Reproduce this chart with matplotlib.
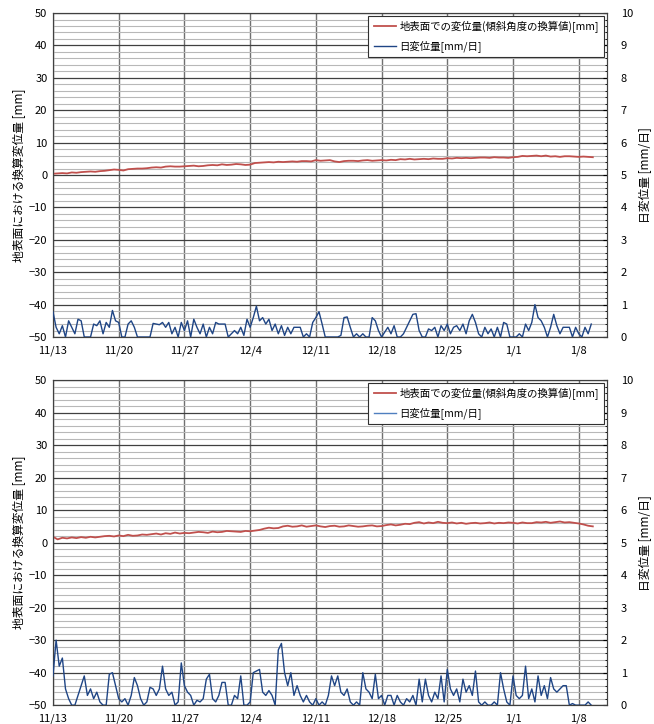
import numpy as np
import matplotlib
matplotlib.use("Agg")
import matplotlib.pyplot as plt
from matplotlib.ticker import MultipleLocator

plt.rcParams['font.family'] = ['Noto Sans CJK JP', 'DejaVu Sans']

# tick labels on the date axis (one every 7 days, starting 11/13)
date_labels = ["11/13", "11/20", "11/27", "12/4", "12/11", "12/18", "12/25", "1/1", "1/8"]

# red: converted surface displacement [mm], two readings per day
red_top = [0.4, 0.5, 0.6, 0.5, 0.8, 0.7, 0.9, 1.0, 1.1, 1.0, 1.2, 1.3, 1.5, 1.7, 1.6, 1.4,
           1.8, 1.9, 2.0, 2.0, 2.1, 2.3, 2.4, 2.3, 2.6, 2.7, 2.6, 2.6, 2.7, 2.8, 2.9, 2.7,
           2.8, 3.0, 3.1, 3.0, 3.3, 3.1, 3.2, 3.4, 3.3, 3.1, 3.2, 3.7, 3.8, 3.9, 4.0, 3.9,
           4.1, 4.0, 4.1, 4.2, 4.1, 4.3, 4.3, 4.2, 4.6, 4.4, 4.5, 4.6, 4.2, 4.0, 4.3, 4.4,
           4.4, 4.3, 4.5, 4.6, 4.4, 4.5, 4.6, 4.5, 4.7, 4.6, 4.9, 4.8, 5.0, 4.8, 4.9, 5.0,
           4.9, 5.1, 5.0, 5.0, 5.2, 5.1, 5.3, 5.2, 5.3, 5.2, 5.3, 5.4, 5.4, 5.3, 5.5, 5.4,
           5.4, 5.3, 5.5, 5.6, 5.9, 5.8, 5.9, 6.0, 5.8, 6.0, 5.7, 5.8, 5.6, 5.8, 5.8, 5.7,
           5.6, 5.7, 5.6, 5.5]
red_bot = [1.8, 1.0, 1.5, 1.3, 1.6, 1.4, 1.7, 1.5, 1.8, 1.6, 1.8, 2.0, 2.1, 1.9, 2.2, 2.0,
           2.4, 2.1, 2.2, 2.5, 2.4, 2.6, 2.8, 2.5, 2.9, 2.7, 3.1, 2.8, 3.0, 2.9, 3.1, 3.3,
           3.2, 3.0, 3.4, 3.2, 3.3, 3.6, 3.5, 3.4, 3.3, 3.6, 3.5, 3.7, 3.9, 4.3, 4.6, 4.4,
           4.5, 5.0, 5.2, 4.9, 5.0, 5.3, 4.9, 5.1, 5.3, 5.0, 4.8, 5.1, 5.2, 4.9, 5.0, 5.3,
           5.1, 4.9, 5.0, 5.2, 5.3, 5.0, 5.1, 5.4, 5.6, 5.3, 5.5, 5.8, 5.7, 6.1, 6.3, 5.9,
           6.2, 6.0, 6.4, 6.1, 6.0, 6.2, 5.9, 6.1, 5.8, 6.0, 6.1, 5.9, 6.0, 6.2, 5.9, 6.1,
           6.0, 6.2, 6.1, 5.9, 6.2, 6.0, 6.0, 6.3, 6.2, 6.4, 6.1, 6.3, 6.5, 6.2, 6.3, 6.1,
           5.9, 5.6, 5.2, 5.0]

# blue: daily displacement [mm/day], three readings per day
blue_top = [0.78, 0.3, 0.1, 0.35, 0.0, 0.5, 0.3, 0.1, 0.55, 0.5, 0.0, 0.0,
            0.0, 0.4, 0.35, 0.5, 0.1, 0.45, 0.3, 0.82, 0.5, 0.45, 0.0, 0.0,
            0.4, 0.5, 0.3, 0.0, 0.0, 0.0, 0.0, 0.0, 0.42, 0.4, 0.38, 0.45,
            0.3, 0.45, 0.1, 0.3, 0.0, 0.45, 0.2, 0.5, 0.0, 0.55, 0.3, 0.1,
            0.4, 0.0, 0.3, 0.1, 0.45, 0.4, 0.4, 0.4, 0.0, 0.1, 0.2, 0.1,
            0.3, 0.05, 0.55, 0.3, 0.6, 0.95, 0.5, 0.6, 0.4, 0.55, 0.2, 0.4,
            0.1, 0.35, 0.05, 0.3, 0.1, 0.3, 0.3, 0.3, 0.0, 0.1, 0.0, 0.45,
            0.6, 0.78, 0.4, 0.0, 0.0, 0.0, 0.0, 0.0, 0.05, 0.6, 0.62, 0.3,
            0.0, 0.1, 0.0, 0.1, 0.0, 0.0, 0.6, 0.5, 0.2, 0.0, 0.15, 0.3,
            0.1, 0.35, 0.0, 0.0, 0.1, 0.3, 0.5, 0.7, 0.72, 0.2, 0.0, 0.0,
            0.25, 0.2, 0.3, 0.0, 0.35, 0.2, 0.4, 0.1, 0.3, 0.35, 0.2, 0.4,
            0.1, 0.5, 0.7, 0.45, 0.1, 0.0, 0.3, 0.1, 0.25, 0.0, 0.3, 0.0,
            0.45, 0.4, 0.0, 0.0, 0.0, 0.1, 0.0, 0.4, 0.2, 0.45, 1.0, 0.6,
            0.5, 0.3, 0.0, 0.3, 0.7, 0.35, 0.1, 0.3, 0.3, 0.3, 0.0, 0.3,
            0.1, 0.0, 0.3, 0.1, 0.4]
blue_bot = [0.9, 2.0, 1.2, 1.45, 0.5, 0.2, 0.0, 0.0, 0.3, 0.6, 0.9, 0.3,
            0.5, 0.2, 0.4, 0.1, 0.0, 0.0, 0.95, 1.0, 0.6, 0.2, 0.1, 0.2,
            0.0, 0.3, 0.85, 0.6, 0.2, 0.0, 0.1, 0.55, 0.5, 0.3, 0.5, 1.2,
            0.5, 0.3, 0.4, 0.0, 0.1, 1.3, 0.6, 0.4, 0.3, 0.0, 0.15, 0.1,
            0.2, 0.8, 0.95, 0.2, 0.1, 0.3, 0.7, 0.7, 0.0, 0.0, 0.3, 0.2,
            0.9, 0.0, 0.0, 0.1, 1.0, 1.05, 1.1, 0.4, 0.3, 0.45, 0.3, 0.0,
            1.7, 1.9, 1.0, 0.6, 1.0, 0.3, 0.6, 0.3, 0.1, 0.3, 0.1, 0.0,
            0.2, 0.0, 0.1, 0.0, 0.3, 0.9, 0.6, 0.9, 0.4, 0.3, 0.5, 0.1,
            0.0, 0.1, 0.0, 1.0, 0.5, 0.4, 0.2, 0.95, 0.2, 0.3, 0.0, 0.3,
            0.3, 0.0, 0.3, 0.1, 0.0, 0.2, 0.1, 0.3, 0.0, 0.8, 0.1, 0.8,
            0.3, 0.1, 0.4, 0.2, 0.9, 0.1, 1.1, 0.5, 0.3, 0.5, 0.1, 0.8,
            0.4, 0.6, 0.3, 1.05, 0.1, 0.0, 0.1, 0.0, 0.0, 0.1, 0.0, 1.0,
            0.5, 0.1, 0.0, 0.9, 0.3, 0.2, 0.3, 1.2, 0.2, 0.5, 0.1, 0.9,
            0.3, 0.6, 0.2, 0.85, 0.5, 0.4, 0.5, 0.6, 0.6, 0.0, 0.05, 0.0,
            0.0, 0.0, 0.0, 0.1, 0.0]

RED = "#c0504d"
BLUE = "#1f4585"


def draw_panel(ax, red, blue, blue_legend_color):
    t_red = np.arange(len(red)) / 2.0
    t_blue = np.arange(len(blue)) / 3.0
    ax.plot(t_red, red, color=RED, lw=1.3, zorder=3)
    ax.set_xlim(0, 59)
    ax.set_ylim(-50, 50)
    ax.yaxis.set_major_locator(MultipleLocator(10))
    ax.yaxis.set_minor_locator(MultipleLocator(2))
    ax.set_xticks(np.arange(len(date_labels)) * 7)
    ax.set_xticklabels(date_labels)
    ax.grid(which="minor", axis="y", color="#b8b8b8", lw=0.8)
    ax.grid(which="major", axis="y", color="#404040", lw=0.9)
    ax.grid(which="major", axis="x", color="#707070", lw=1.0)
    ax.set_axisbelow(True)
    ax.tick_params(axis="both", which="both", length=0, labelsize=8, pad=4)
    ax.tick_params(axis="x", pad=6)
    ax.set_ylabel("地表面における換算変位量 [mm]", fontsize=8.5, labelpad=2)
    for s in ax.spines.values():
        s.set_color("#404040")

    ax2 = ax.twinx()
    ax2.plot(t_blue, blue, color=BLUE, lw=1.0, zorder=3)
    ax2.set_ylim(0, 10)
    ax2.yaxis.set_major_locator(MultipleLocator(1))
    ax2.yaxis.set_minor_locator(MultipleLocator(0.2))
    ax2.tick_params(axis="y", which="major", direction="in", length=3, labelsize=8, pad=10)
    ax2.tick_params(axis="y", which="minor", direction="in", length=1.5)
    ax2.set_ylabel("日変位量 [mm/日]", fontsize=8.5, labelpad=4)
    for s in ax2.spines.values():
        s.set_color("#404040")

    h1 = plt.Line2D([], [], color=RED, lw=1.3)
    h2 = plt.Line2D([], [], color=blue_legend_color, lw=1.0)
    leg = ax2.legend([h1, h2], ["地表面での変位量(傾斜角度の換算値)[mm]", "日変位量[mm/日]"],
                     loc="upper right", fontsize=7.5, fancybox=False, framealpha=1,
                     edgecolor="#303030", handlelength=2.2, handletextpad=0.3,
                     borderaxespad=0.25, labelspacing=0.7, borderpad=0.5)
    leg.get_frame().set_linewidth(0.8)
    leg.set_zorder(10)


fig = plt.figure(figsize=(6.54, 7.24), dpi=100)
ax_top = fig.add_axes([0.081, 0.5345, 0.847, 0.4475])
ax_bot = fig.add_axes([0.081, 0.026, 0.847, 0.449])

draw_panel(ax_top, red_top, blue_top, BLUE)
draw_panel(ax_bot, red_bot, blue_bot, "#4f7fbf")

fig.savefig("out.png", dpi=100)
